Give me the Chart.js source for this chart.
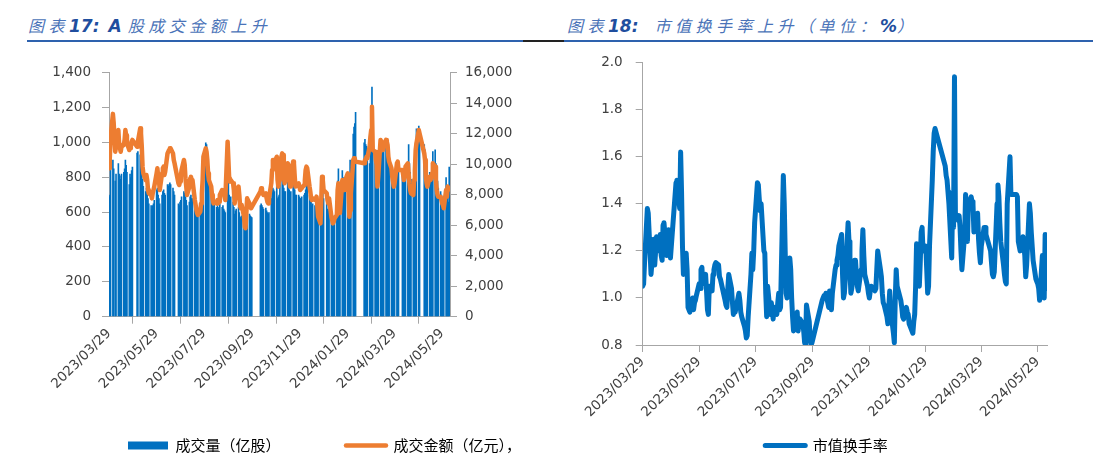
<!DOCTYPE html>
<html>
<head>
<meta charset="utf-8">
<script src="https://cdn.jsdelivr.net/npm/chart.js@4.4.1/dist/chart.umd.min.js"></script>
<style>
  html, body { margin: 0; padding: 0; background: #fff; }
  body { width: 1093px; height: 463px; position: relative; overflow: hidden; }
  .title { position: absolute; top: 13px; font-family: "Noto Sans CJK SC", sans-serif; font-style: italic;
           font-size: 16px; letter-spacing: 4.5px; color: #4a73b8; white-space: nowrap; line-height: 24px; }
  .title b { font-family: "DejaVu Sans", sans-serif; font-weight: bold; font-size: 17px; letter-spacing: 0; color: #1f4e9e; }
  .rule { position: absolute; top: 40px; height: 2px; }
  canvas { position: absolute; top: 0; }
</style>
</head>
<body>
<div class="title" style="left:28px">图表<b style="margin-right:9px">17:</b><b style="margin-right:6px">A</b>股成交金额上升</div>
<div class="title" style="left:567px">图表<b style="margin-right:16px">18:</b>市值换手率上升（单位：<b>%</b>）</div>
<div class="rule" style="left:27px;width:496px;background:#2e62ae"></div>
<div class="rule" style="left:523px;width:41px;background:#222"></div>
<div class="rule" style="left:564px;width:529px;background:#2e62ae"></div>
<canvas id="volChart" width="649" height="463" style="left:0"></canvas>
<canvas id="turnChart" width="533" height="463" style="left:560px"></canvas>
<script>
// trading days, one list per month
const months = ['2023-03', '2023-04', '2023-05', '2023-06', '2023-07', '2023-08', '2023-09', '2023-10',
                '2023-11', '2023-12', '2024-01', '2024-02', '2024-03', '2024-04', '2024-05', '2024-06'];
const tradingDays = [
    [29, 30, 31],
    [3, 4, 6, 7, 10, 11, 12, 13, 14, 17, 18, 19, 20, 21, 24, 25, 26, 27, 28],
    [4, 5, 8, 9, 10, 11, 12, 15, 16, 17, 18, 19, 22, 23, 24, 25, 26, 29, 30, 31],
    [1, 2, 5, 6, 7, 8, 9, 12, 13, 14, 15, 16, 19, 20, 21, 26, 27, 28, 29, 30],
    [3, 4, 5, 6, 7, 10, 11, 12, 13, 14, 17, 18, 19, 20, 21, 24, 25, 26, 27, 28, 31],
    [1, 2, 3, 4, 7, 8, 9, 10, 11, 14, 15, 16, 17, 18, 21, 22, 23, 24, 25, 28, 29, 30, 31],
    [1, 4, 5, 6, 7, 8, 11, 12, 13, 14, 15, 18, 19, 20, 21, 22, 25, 26, 27, 28],
    [9, 10, 11, 12, 13, 16, 17, 18, 19, 20, 23, 24, 25, 26, 27, 30, 31],
    [1, 2, 3, 6, 7, 8, 9, 10, 13, 14, 15, 16, 17, 20, 21, 22, 23, 24, 27, 28, 29, 30],
    [1, 4, 5, 6, 7, 8, 11, 12, 13, 14, 15, 18, 19, 20, 21, 22, 25, 26, 27, 28, 29],
    [2, 3, 4, 5, 8, 9, 10, 11, 12, 15, 16, 17, 18, 19, 22, 23, 24, 25, 26, 29, 30, 31],
    [1, 2, 5, 6, 7, 8, 19, 20, 21, 22, 23, 26, 27, 28, 29],
    [1, 4, 5, 6, 7, 8, 11, 12, 13, 14, 15, 18, 19, 20, 21, 22, 25, 26, 27, 28, 29],
    [1, 2, 3, 8, 9, 10, 11, 12, 15, 16, 17, 18, 19, 22, 23, 24, 25, 26, 29, 30],
    [6, 7, 8, 9, 10, 13, 14, 15, 16, 17, 20, 21, 22, 23, 24, 27, 28, 29, 30, 31],
    [3, 4, 5, 6, 7]
];
const tickLabels = ['2023/03/29', '2023/05/29', '2023/07/29', '2023/09/29',
                    '2023/11/29', '2024/01/29', '2024/03/29', '2024/05/29'];

// 成交量（亿股）
const volume = [
    700, 690, 880,
    900, 850, 780, 820, 880, 820, 810, 790, 820, 830, 850, 900, 870, 830, 760, 820, 800, 840, 860,
    940, 950, 930, 910, 860, 790, 750, 720, 740, 710, 680, 650, 640, 620, 640, 650, 670, 730, 740, 700,
    680, 650, 700, 720, 730, 710, 700, 760, 750, 760, 770, 760, 740, 720, 700, 650, 640, 660, 670, 690,
    720, 710, 690, 670, 640, 660, 690, 700, 680, 680, 620, 600, 590, 580, 575, 590, 610, 660, 740, 900, 1000,
    990, 930, 860, 790, 720, 690, 660, 640, 650, 630, 640, 620, 630, 650, 630, 640, 620, 610, 600, 1010, 800, 700, 680,
    690, 660, 630, 590, 610, 620, 630, 600, 575, 565, 580, 555, 530, 525, 560, 610, 590, 580, 575, 570,
    640, 650, 640, 630, 620, 625, 610, 600, 590, 600, 680, 720, 740, 730, 720, 750, 680,
    690, 700, 760, 800, 790, 740, 720, 720, 780, 770, 730, 710, 720, 780, 770, 730, 700, 700, 700, 690, 680, 680,
    690, 700, 710, 730, 770, 760, 700, 680, 660, 640, 650, 640, 650, 650, 620, 580, 560, 640, 720, 710, 680,
    650, 620, 610, 620, 560, 550, 540, 545, 560, 580, 780, 850, 650, 600, 840, 800, 770, 780, 800, 820, 790, 700,
    900, 860, 1050, 1090, 1110, 1175, 1000, 1020, 990, 980, 960, 880, 960, 1000, 1320,
    960, 940, 900, 870, 780, 820, 1000, 990, 960, 940, 960, 1000, 980, 950, 900, 880, 850, 820, 800, 790, 810,
    880, 870, 830, 830, 820, 800, 810, 850, 870, 990, 880, 830, 790, 720, 760, 820, 1000, 1080, 1095, 1050,
    990, 960, 880, 840, 800, 830, 810, 820, 870, 950, 960, 880, 820, 780, 740, 720, 700, 680, 665, 650,
    800, 700, 690, 660, 860
];

// 成交金额（亿元）
const amount = [
    9730, 10400, 11700,
    13300, 12700, 10820, 11150, 12240, 11300, 11040, 10820, 11150, 11260, 11590, 12240, 11900, 11370, 10930, 11040, 11150, 11480, 11590,
    11150, 11480, 12350, 12020, 11150, 9840, 9400, 8960, 9290, 8960, 8310, 8090, 7980, 7760, 8090, 8310, 8530, 9400, 9730, 9180,
    8960, 8310, 9400, 9730, 9840, 9290, 9510, 10710, 10820, 10930, 11040, 11040, 10710, 10280, 10060, 8750, 8640, 8860, 9180, 9620,
    10280, 9950, 9070, 8530, 7980, 8530, 9070, 9180, 8960, 8960, 7650, 7330, 7000, 6780, 6670, 6890, 7430, 8090, 8960, 10490, 11040,
    10820, 10280, 9400, 8960, 8530, 7980, 7650, 7430, 7540, 7430, 7650, 7430, 7540, 7980, 8310, 8310, 8090, 7870, 7650, 11480, 10280, 9070, 8860,
    8960, 8750, 8310, 7430, 7870, 8310, 8530, 7980, 7220, 7110, 7330, 6560, 5900, 5800, 6780, 7760, 7430, 7220, 7110, 7110,
    8200, 8420, 8310, 8090, 7980, 8090, 7760, 7540, 7430, 7760, 8750, 9620, 10280, 10280, 10060, 10490, 8960,
    8530, 8960, 10060, 10710, 10600, 9400, 8750, 8960, 10060, 9950, 8960, 8530, 8860, 10170, 10060, 9180, 8530, 8640, 8750, 8530, 8310, 8310,
    8420, 8640, 8960, 9620, 9840, 9730, 8530, 8200, 7760, 7650, 7760, 7650, 7760, 7870, 7220, 6560, 6120, 7650, 9180, 8960, 8310,
    8090, 7650, 7430, 7760, 6560, 6340, 6120, 6230, 6450, 6670, 8310, 8750, 7330, 6800, 8960, 8960, 8310, 8310, 8960, 9400, 8090, 6560,
    7000, 8090, 10280, 10390, 10280, 10170, 10060, 10280, 10280, 10490, 10390, 11150, 11800, 12240, 13770,
    10930, 10820, 10280, 9950, 8530, 9180, 11590, 11480, 11150, 10930, 11260, 11590, 11480, 11260, 10490, 10170, 9730, 9180, 8860, 8530, 8750,
    10060, 10170, 9620, 9620, 9290, 8960, 9180, 9840, 10060, 9400, 8750, 8310, 8090, 7980, 8960, 9620, 10930, 11370, 12240, 12020,
    10710, 10280, 9180, 8750, 8530, 9180, 8960, 9070, 9400, 10060, 9840, 8960, 8310, 7980, 7870, 7870, 7650, 7430, 7330, 7110,
    8310, 7870, 8530, 8310, 8420
];

// 市值换手率（%）
const turnover = [
    1.05, 1.06, 1.15,
    1.38, 1.36, 1.19, 1.10, 1.25, 1.14, 1.20, 1.26, 1.20, 1.27, 1.18, 1.16, 1.31, 1.32, 1.18, 1.26, 1.29, 1.20, 1.17,
    1.49, 1.50, 1.38, 1.62, 1.45, 1.22, 1.10, 1.19, 1.12, 0.96, 0.95, 0.94, 1.00, 0.95, 0.98, 0.99, 1.01, 1.06, 1.04, 1.12,
    1.13, 1.06, 1.10, 1.03, 0.95, 0.93, 1.05, 1.03, 1.10, 1.12, 1.14, 1.15, 1.14, 1.09, 1.08, 0.99, 0.97, 0.96, 1.04, 1.10,
    1.04, 0.98, 0.93, 0.95, 0.94, 1.00, 1.02, 0.99, 0.94, 0.92, 0.88, 0.86, 0.83, 0.84, 0.92, 1.10, 1.19, 1.12, 1.20, 1.32, 1.49,
    1.48, 1.42, 1.37, 1.40, 1.20, 1.19, 1.02, 0.92, 1.05, 0.93, 0.98, 0.95, 0.91, 0.96, 0.93, 0.98, 1.02, 0.95, 0.96, 1.52, 1.40, 1.20, 1.02,
    1.00, 1.17, 1.12, 1.00, 0.92, 0.86, 0.93, 0.94, 0.86, 0.90, 0.91, 0.89, 0.86, 0.81, 0.80, 0.97, 0.90, 0.82, 0.80, 0.81,
    0.99, 1.00, 1.01, 1.00, 1.02, 0.96, 1.03, 1.00, 0.95, 1.02, 1.12, 1.14, 1.16, 1.18, 1.22, 1.27, 1.10,
    1.00, 1.02, 1.08, 1.32, 1.24, 1.12, 1.02, 1.04, 1.16, 1.16, 1.10, 1.05, 1.03, 1.12, 1.20, 1.29, 1.18, 1.10, 1.05, 1.02, 1.00, 1.03,
    1.05, 1.04, 1.03, 1.04, 1.12, 1.20, 1.12, 1.09, 1.02, 0.98, 0.97, 0.92, 0.89, 0.96, 1.03, 0.95, 0.85, 0.81, 1.00, 1.12, 1.05,
    0.99, 0.96, 0.92, 0.91, 0.96, 0.94, 0.93, 0.89, 0.88, 0.85, 0.90, 0.93, 1.05, 1.23, 1.05, 1.15, 1.28, 1.30, 1.20, 1.22, 1.12, 1.02,
    1.05, 1.22, 1.50, 1.62, 1.70, 1.72, 1.56, 1.52, 1.50, 1.45, 1.40, 1.17, 1.42, 1.30, 1.94,
    1.36, 1.33, 1.35, 1.30, 1.20, 1.12, 1.27, 1.44, 1.30, 1.24, 1.40, 1.43, 1.41, 1.40, 1.28, 1.32, 1.36, 1.25, 1.19, 1.15, 1.22,
    1.30, 1.30, 1.27, 1.20, 1.15, 1.10, 1.09, 1.11, 1.40, 1.48, 1.43, 1.32, 1.24, 1.14, 1.10, 1.07, 1.06, 1.40, 1.60, 1.44,
    1.44, 1.43, 1.24, 1.22, 1.20, 1.26, 1.22, 1.18, 1.09, 1.14, 1.40, 1.36, 1.28, 1.22, 1.16, 1.08, 1.07, 1.06, 1.04, 0.99,
    1.18, 1.05, 1.00, 1.27, 1.04
];

// x is the calendar day counted from 2023/03/29, so holidays leave gaps like the Excel date axis
const start = Date.UTC(2023, 2, 29);
const dayOf = (y, m, d) => Math.round((Date.UTC(y, m - 1, d) - start) / 86400000);
const xs = [];
months.forEach((ym, i) => {
    const [y, m] = ym.split('-').map(Number);
    tradingDays[i].forEach(d => xs.push(dayOf(y, m, d)));
});
const tickDays = tickLabels.map(s => { const [y, m, d] = s.split('/').map(Number); return dayOf(y, m, d); });
const points = vals => xs.map((x, i) => ({ x: x, y: vals[i] }));

const blue = '#0070C0';
const orange = '#ED7D31';
const axisGrey = '#A6A6A6';
const labelColor = '#404040';
const tickFont = { family: 'DejaVu Sans', size: 13.5 };
const legendFont = { family: '"Noto Sans CJK SC"', size: 15 };

// fixed axis box size; labels may spill outside the box, so don't clip them to it
function fixSize(dim, size) {
    return s => { s[dim] = size; s._computeLabelArea = () => null; };
}

function dateAxis(height) {
    return {
        type: 'linear', min: 0, max: 437, offset: false,
        afterBuildTicks: s => { s.ticks = tickDays.map(v => ({ value: v })); },
        afterFit: fixSize('height', height),
        grid: { drawOnChartArea: false, color: axisGrey, tickLength: 7 },
        border: { color: axisGrey },
        ticks: {
            autoSkip: false, minRotation: 45, maxRotation: 45, padding: 2,
            color: labelColor, font: tickFont,
            callback: v => tickLabels[tickDays.indexOf(v)] || ''
        }
    };
}

// 成交量 / 成交金额
new Chart(document.getElementById('volChart'), {
    data: {
        datasets: [
            {
                type: 'bar', label: '成交量（亿股）', data: points(volume), yAxisID: 'y',
                backgroundColor: blue, barPercentage: 2.1, categoryPercentage: 1, order: 2
            },
            {
                type: 'line', label: '成交金额（亿元），', data: points(amount), yAxisID: 'y1',
                borderColor: orange, borderWidth: 4.5, pointRadius: 0, tension: 0,
                borderJoinStyle: 'round', borderCapStyle: 'round', order: 1
            }
        ]
    },
    options: {
        responsive: false, animation: false,
        layout: { padding: { top: 72.7, bottom: 0, left: 0, right: 0 } },
        scales: {
            x: dateAxis(55.8),
            y: {
                position: 'left', min: 0, max: 1400,
                afterFit: fixSize('width', 109),
                grid: { drawOnChartArea: false, color: axisGrey, tickLength: 7 },
                border: { color: axisGrey },
                ticks: { stepSize: 200, padding: 11, color: labelColor, font: tickFont,
                         callback: v => v.toLocaleString('en-US') }
            },
            y1: {
                position: 'right', min: 0, max: 16000,
                afterFit: fixSize('width', 199),
                grid: { drawOnChartArea: false, color: axisGrey, tickLength: 7 },
                border: { color: axisGrey },
                ticks: { stepSize: 2000, padding: 8, color: labelColor, font: tickFont,
                         callback: v => v.toLocaleString('en-US') }
            }
        },
        plugins: {
            tooltip: { enabled: false },
            legend: {
                position: 'bottom',
                labels: {
                    usePointStyle: true, pointStyleWidth: 40, boxHeight: 8, padding: 65.5,
                    color: '#595959', font: legendFont,
                    generateLabels: () => [
                        { text: '成交量（亿股）', fillStyle: blue, strokeStyle: blue, lineWidth: 0,
                          pointStyle: 'rect', datasetIndex: 0, hidden: false },
                        { text: '成交金额（亿元），', fillStyle: orange, strokeStyle: orange, lineWidth: 4.5,
                          lineCap: 'round', pointStyle: 'line', datasetIndex: 1, hidden: false }
                    ]
                }
            }
        }
    }
});

// 市值换手率
new Chart(document.getElementById('turnChart'), {
    type: 'line',
    data: {
        datasets: [{
            label: '市值换手率', data: points(turnover),
            borderColor: blue, borderWidth: 5, pointRadius: 0, tension: 0, clip: 0,
            borderJoinStyle: 'round', borderCapStyle: 'round'
        }]
    },
    options: {
        responsive: false, animation: false,
        layout: { padding: { top: 62.7, bottom: 0, left: 46, right: 46 } },
        scales: {
            x: dateAxis(83),
            y: {
                min: 0.8, max: 2.0,
                afterFit: fixSize('width', 36.7),
                grid: { drawOnChartArea: false, color: axisGrey, tickLength: 7 },
                border: { color: axisGrey },
                ticks: { stepSize: 0.2, padding: 13, color: labelColor, font: tickFont,
                         callback: v => v.toFixed(1) }
            }
        },
        plugins: {
            tooltip: { enabled: false },
            legend: {
                position: 'bottom',
                labels: {
                    usePointStyle: true, pointStyleWidth: 40, boxHeight: 8, padding: 10,
                    color: '#595959', font: legendFont,
                    generateLabels: () => [
                        { text: '市值换手率', fillStyle: blue, strokeStyle: blue, lineWidth: 5,
                          lineCap: 'round', pointStyle: 'line', datasetIndex: 0, hidden: false }
                    ]
                }
            }
        }
    }
});
</script>
</body>
</html>
